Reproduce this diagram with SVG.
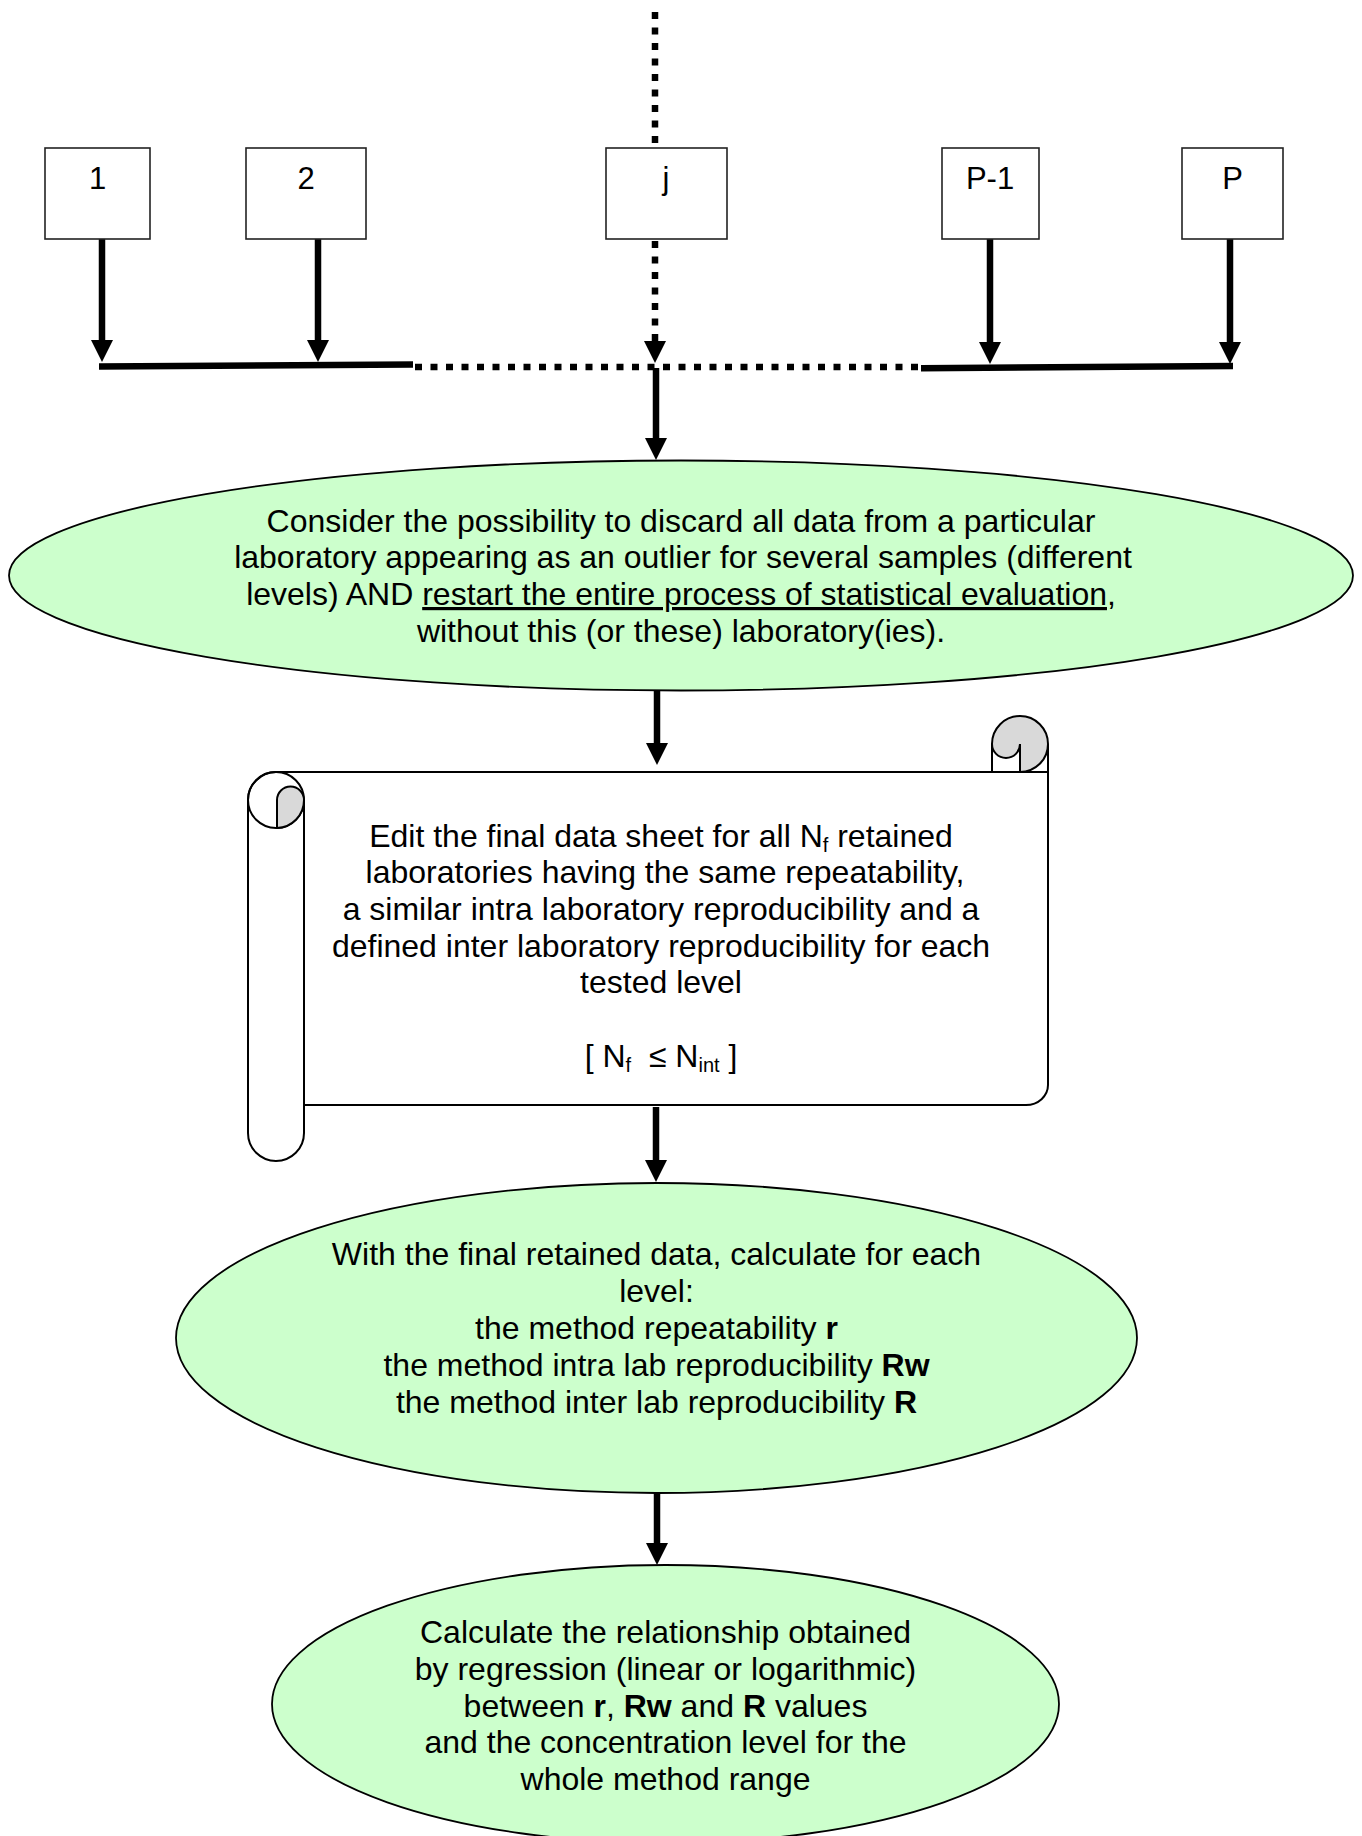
<svg xmlns="http://www.w3.org/2000/svg" width="1362" height="1836" viewBox="0 0 1362 1836">
<style>
  .box { fill: #ffffff; stroke: #222222; stroke-width: 1.6; }
  .ell { fill: #ccffcc; stroke: #000000; stroke-width: 1.8; }
  .scroll { fill: #ffffff; stroke: #000000; stroke-width: 2; }
  .curl { fill: #d9d9d9; stroke: #000000; stroke-width: 2; }
  .ln { fill: none; stroke: #000000; stroke-width: 2; }
  .sh { fill: none; stroke: #000000; stroke-width: 6.5; }
  .dot { fill: none; stroke: #000000; stroke-width: 6.5; stroke-dasharray: 7 8.5; }
  text { font-family: "Liberation Sans", Arial, sans-serif; fill: #000000; text-anchor: middle; }
  .t32 { font-size: 32px; }
  .t31 { font-size: 31px; }
  .b { font-weight: bold; }
</style>
<defs>
  <marker id="ah" viewBox="0 0 22 22" refX="1" refY="11" markerWidth="22" markerHeight="22" markerUnits="userSpaceOnUse" orient="auto">
    <path d="M0,0 L22,11 L0,22 Z" fill="#000000"/>
  </marker>
</defs>

<g id="connectors">
  <line class="dot" x1="655" y1="12" x2="655" y2="147"/>
  <line class="sh" x1="102" y1="239" x2="102" y2="341" marker-end="url(#ah)"/>
  <line class="sh" x1="318" y1="239" x2="318" y2="341" marker-end="url(#ah)"/>
  <line class="dot" x1="655" y1="241" x2="655" y2="342" marker-end="url(#ah)"/>
  <line class="sh" x1="990" y1="239" x2="990" y2="343" marker-end="url(#ah)"/>
  <line class="sh" x1="1230" y1="239" x2="1230" y2="343" marker-end="url(#ah)"/>
  <line class="sh" x1="99" y1="366.5" x2="413" y2="364.5"/>
  <line class="dot" x1="415" y1="367" x2="921" y2="367"/>
  <line class="sh" x1="921" y1="368.3" x2="1233" y2="366"/>
  <line class="sh" x1="656" y1="368" x2="656" y2="439" marker-end="url(#ah)"/>
  <line class="sh" x1="657" y1="691" x2="657" y2="744" marker-end="url(#ah)"/>
  <line class="sh" x1="656" y1="1107" x2="656" y2="1161" marker-end="url(#ah)"/>
  <line class="sh" x1="657" y1="1493" x2="657" y2="1544" marker-end="url(#ah)"/>
</g>

<g id="node-1">
  <rect class="box" x="45" y="148" width="105" height="91"/>
  <text class="t31" x="97.5" y="189">1</text>
</g>
<g id="node-2">
  <rect class="box" x="246" y="148" width="120" height="91"/>
  <text class="t31" x="306" y="189">2</text>
</g>
<g id="node-j">
  <rect class="box" x="606" y="148" width="121" height="91"/>
  <text class="t31" x="666" y="189">j</text>
</g>
<g id="node-p-1">
  <rect class="box" x="942" y="148" width="97" height="91"/>
  <text class="t31" x="990" y="189">P-1</text>
</g>
<g id="node-p">
  <rect class="box" x="1182" y="148" width="101" height="91"/>
  <text class="t31" x="1232.5" y="189">P</text>
</g>

<g id="node-discard">
  <ellipse class="ell" cx="681" cy="575.5" rx="672" ry="115"/>
  <text class="t32" x="681" y="531.5">Consider the possibility to discard all data from a particular</text>
  <text class="t32" x="683" y="568.3">laboratory appearing as an outlier for several samples (different</text>
  <text class="t32" x="681" y="605">levels) AND <tspan text-decoration="underline" style="text-decoration: underline;">restart the entire process of statistical evaluation</tspan>,</text>
  <text class="t32" x="681" y="641.7">without this (or these) laboratory(ies).</text>
</g>

<g id="node-datasheet">
  <path class="scroll" d="M 276,772 H 1020 L 1048,772 V 1085 A 22 20 0 0 1 1026,1105 H 304 V 1133 A 28 28 0 0 1 248,1133 V 800 A 28 28 0 0 1 276,772 Z"/>
  <path class="ln" d="M 304,1105 V 800"/>
  <circle class="ln" cx="276" cy="800" r="28"/>
  <path class="curl" d="M 277,828 V 800 A 13.5 13.5 0 0 1 304,800 A 28 28 0 0 1 277,828 Z"/>
  <path class="curl" d="M 992,772 V 744 A 28 28 0 0 1 1048,744 A 28 28 0 0 1 1020,772 V 744 A 14 14 0 0 1 992,744 Z"/>
  <path class="ln" d="M 1048,744 V 780"/>
  <path class="ln" d="M 992,744 V 772 M 1020,744 V 772"/>
  <text class="t32" x="661" y="846.5">Edit the final data sheet for all N<tspan font-size="20" dy="5">f</tspan><tspan dy="-5"> retained</tspan></text>
  <text class="t32" x="665" y="883.2">laboratories having the same repeatability,</text>
  <text class="t32" x="661" y="919.9">a similar intra laboratory reproducibility and a</text>
  <text class="t32" x="661" y="956.6">defined inter laboratory reproducibility for each</text>
  <text class="t32" x="661" y="993.3">tested level</text>
  <text class="t32" x="661" y="1066.7">[ N<tspan font-size="20" dy="5">f</tspan><tspan dy="-5">&#160; ≤ N</tspan><tspan font-size="20" dy="5">int</tspan><tspan dy="-5"> ]</tspan></text>
</g>

<g id="node-calculate">
  <ellipse class="ell" cx="656.5" cy="1338" rx="480.5" ry="155"/>
  <text class="t32" x="656.5" y="1265">With the final retained data, calculate for each</text>
  <text class="t32" x="656.5" y="1302">level:</text>
  <text class="t32" x="656.5" y="1338.5">the method repeatability <tspan class="b">r</tspan></text>
  <text class="t32" x="656.5" y="1375.5">the method intra lab reproducibility <tspan class="b">Rw</tspan></text>
  <text class="t32" x="656.5" y="1412.5">the method inter lab reproducibility <tspan class="b">R</tspan></text>
</g>

<g id="node-regression">
  <ellipse class="ell" cx="665.5" cy="1704" rx="393.5" ry="139"/>
  <text class="t32" x="665.5" y="1643">Calculate the relationship obtained</text>
  <text class="t32" x="665.5" y="1680">by regression (linear or logarithmic)</text>
  <text class="t32" x="665.5" y="1716.7">between <tspan class="b">r</tspan>, <tspan class="b">Rw</tspan> and <tspan class="b">R</tspan> values</text>
  <text class="t32" x="665.5" y="1753.4">and the concentration level for the</text>
  <text class="t32" x="665.5" y="1790">whole method range</text>
</g>
</svg>
